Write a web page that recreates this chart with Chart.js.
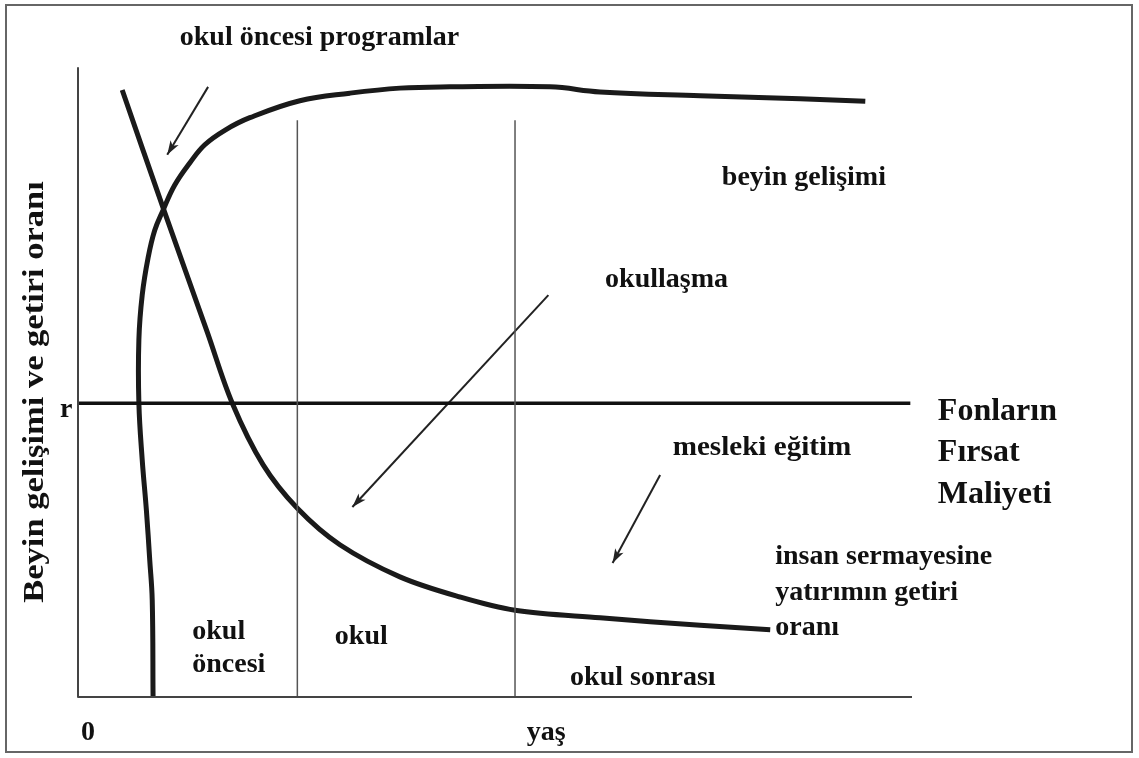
<!DOCTYPE html>
<html>
<head>
<meta charset="utf-8">
<script src="https://cdn.jsdelivr.net/npm/chart.js@4/dist/chart.umd.min.js"></script>
<style>
    body { margin: 0; background: #fff; }
    #wrap { width: 1139px; height: 758px; }
</style>
</head>
<body>
<div id="wrap"><canvas id="heckmanChart" width="1139" height="758"></canvas></div>
<script>
// Beyin gelişimi eğrisi (x = yaş, y = düzey, 0-100 ölçek)
const brainX = [9.0, 8.9, 8.6, 8.2, 7.7, 7.3, 7.3, 7.7, 8.4, 9.2, 10.2, 11.6, 13.4, 15.2, 17.6, 20.6, 26.6, 32.6, 38.6, 44.6, 56.6, 62.6, 74.6, 86.6, 94.4];
const brainY = [0, 15.4, 21.8, 29.7, 37.7, 46.7, 56.8, 63.9, 69.8, 74.2, 77.4, 81.4, 84.9, 87.8, 90.1, 92.1, 94.8, 96.0, 96.8, 97.0, 97.0, 96.2, 95.6, 95.1, 94.7];

// İnsan sermayesine yatırımın getiri oranı
const returnX = [5.3, 10.3, 15.5, 18.5, 22.2, 26.3, 31.4, 38.6, 45.8, 52.4, 62.6, 74.6, 83.0];
const returnY = [96.5, 77.4, 58.0, 46.7, 36.9, 30.0, 24.2, 19.1, 15.9, 13.8, 12.6, 11.4, 10.7];

// Fonların fırsat maliyeti (r)
const rValue = 46.7;
const rEnd = 99.8;

// Dönem sınırları: okul öncesi | okul | okul sonrası
const stageBounds = [26.3, 52.4];
const stageTop = 91.7;

// Oklar (başlangıç -> uç)
const arrowFromX = [15.6, 56.4, 69.8];
const arrowFromY = [97.0, 63.9, 35.3];
const arrowToX = [10.7, 32.9, 64.1];
const arrowToY = [86.2, 30.2, 21.3];

// Metinler
const labelTexts = ['okul öncesi programlar', 'beyin gelişimi', 'okullaşma', 'r',
    'Fonların', 'Fırsat', 'Maliyeti', 'mesleki eğitim',
    'insan sermayesine', 'yatırımın getiri', 'oranı',
    'okul', 'öncesi', 'okul', 'okul sonrası', '0', 'yaş'];
const yTitle = 'Beyin gelişimi ve getiri oranı';

// label placement (data coords) and style
const labelLayout = [
    { x: 12.2, y: 104.8, size: 28 },
    { x: 77.2, y: 82.5, size: 28 },
    { x: 63.2, y: 66.3, size: 28 },
    { x: -1.4, y: 45.6, size: 28, align: 'center' },
    { x: 103.1, y: 45.4, size: 32 },
    { x: 103.1, y: 38.8, size: 32 },
    { x: 103.1, y: 32.1, size: 32 },
    { x: 71.3, y: 39.7, size: 28, stretch: 1.04 },
    { x: 83.6, y: 22.3, size: 28 },
    { x: 83.6, y: 16.6, size: 28 },
    { x: 83.6, y: 11.0, size: 28 },
    { x: 13.7, y: 10.3, size: 28 },
    { x: 13.7, y: 5.1, size: 28 },
    { x: 30.8, y: 9.5, size: 28 },
    { x: 59.0, y: 3.0, size: 28 },
    { x: 1.2, y: -5.7, size: 28, align: 'center' },
    { x: 53.8, y: -5.7, size: 28 }
];

const serif = "'Liberation Serif', 'Times New Roman', serif";

function zip(xs, ys) {
    return xs.map((x, i) => ({ x: x, y: ys[i] }));
}

function lineSet(points, width, color, extra) {
    return Object.assign({
        data: points,
        showLine: true,
        borderColor: color,
        borderWidth: width,
        pointRadius: 0,
        fill: false,
        tension: 0
    }, extra || {});
}

const datasets = [
    // axes
    lineSet([{ x: 0, y: 100 }, { x: 0, y: 0 }, { x: 100, y: 0 }], 2, '#444'),
    // stage boundaries
    ...stageBounds.map(b => lineSet([{ x: b, y: 0 }, { x: b, y: stageTop }], 1.5, '#555')),
    // r line
    lineSet([{ x: 0, y: rValue }, { x: rEnd, y: rValue }], 3.5, '#111'),
    // curves
    lineSet(zip(brainX, brainY), 5, '#1a1a1a', { tension: 0.4 }),
    lineSet(zip(returnX, returnY), 5, '#1a1a1a', { tension: 0.35 }),
    // arrows
    ...arrowFromX.map((x, i) => lineSet(
        [{ x: x, y: arrowFromY[i] }, { x: arrowToX[i], y: arrowToY[i] }],
        2, '#222', { arrow: true }))
];

const decorPlugin = {
    id: 'decor',
    afterDatasetsDraw(chart) {
        const ctx = chart.ctx;
        const xs = chart.scales.x, ys = chart.scales.y;

        // arrow heads
        chart.data.datasets.forEach((ds, i) => {
            if (!ds.arrow) return;
            const pts = chart.getDatasetMeta(i).data;
            const a = pts[0], b = pts[pts.length - 1];
            const ang = Math.atan2(b.y - a.y, b.x - a.x);
            const len = 15, spread = 0.32;
            ctx.save();
            ctx.fillStyle = '#222';
            ctx.beginPath();
            ctx.moveTo(b.x, b.y);
            ctx.lineTo(b.x - len * Math.cos(ang - spread), b.y - len * Math.sin(ang - spread));
            ctx.lineTo(b.x - len * 0.7 * Math.cos(ang), b.y - len * 0.7 * Math.sin(ang));
            ctx.lineTo(b.x - len * Math.cos(ang + spread), b.y - len * Math.sin(ang + spread));
            ctx.closePath();
            ctx.fill();
            ctx.restore();
        });

        // labels
        ctx.save();
        ctx.fillStyle = '#111';
        ctx.textBaseline = 'middle';
        labelTexts.forEach((t, i) => {
            const l = labelLayout[i];
            ctx.save();
            ctx.font = 'bold ' + l.size + 'px ' + serif;
            ctx.textAlign = l.align || 'left';
            ctx.translate(xs.getPixelForValue(l.x), ys.getPixelForValue(l.y));
            ctx.scale(l.stretch || 1, 1);
            ctx.fillText(t, 0, 0);
            ctx.restore();
        });

        // y axis title
        ctx.translate(xs.getPixelForValue(-5.1), ys.getPixelForValue(48.5));
        ctx.rotate(-Math.PI / 2);
        ctx.scale(1.15, 1);
        ctx.font = 'bold 30px ' + serif;
        ctx.textAlign = 'center';
        ctx.fillText(yTitle, 0, 0);
        ctx.restore();

        // picture frame
        ctx.save();
        ctx.strokeStyle = '#666';
        ctx.lineWidth = 2;
        ctx.strokeRect(6, 5, chart.width - 13, chart.height - 11);
        ctx.restore();
    }
};

const ctx = document.getElementById('heckmanChart').getContext('2d');
const heckmanChart = new Chart(ctx, {
    type: 'scatter',
    data: { datasets: datasets },
    options: {
        responsive: false,
        animation: false,
        layout: {
            padding: { left: 78, right: 227, top: 68, bottom: 61 }
        },
        scales: {
            x: { type: 'linear', min: 0, max: 100, display: false },
            y: { type: 'linear', min: 0, max: 100, display: false }
        },
        plugins: {
            legend: { display: false },
            tooltip: { enabled: false }
        },
        elements: {
            line: { borderCapStyle: 'butt', borderJoinStyle: 'round' }
        },
        clip: false
    },
    plugins: [decorPlugin]
});
</script>
</body>
</html>
